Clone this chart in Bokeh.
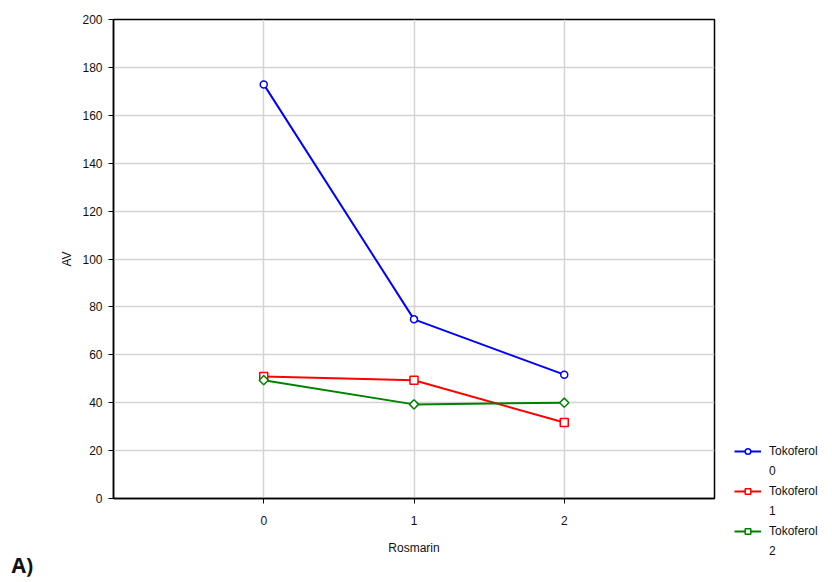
import math
from bokeh.plotting import figure
from bokeh.models import Range1d, FixedTicker, Legend, LegendItem, Title
from bokeh.embed import file_html
from bokeh.resources import INLINE

rosmarin = [0, 1, 2]
tok0 = [172.9, 74.8, 51.7]
tok1 = [50.9, 49.4, 31.7]
tok2 = [49.4, 39.3, 40.0]
series_title = "Tokoferol"
series_levels = ["0", "1", "2"]
y_ticks = [0, 20, 40, 60, 80, 100, 120, 140, 160, 180, 200]

p = figure(frame_width=601, frame_height=479, output_backend="svg", toolbar_location=None,
           x_range=Range1d(-1, 3), y_range=Range1d(0, 200),
           min_border_left=113, min_border_right=110, min_border_top=19,
           min_border_bottom=82)

p.outline_line_color = "black"
p.outline_line_width = 1.5
p.background_fill_color = "white"
p.border_fill_color = "white"

for ax in (p.xaxis[0], p.yaxis[0]):
    ax.axis_line_color = "black"
    ax.axis_line_width = 1.5
    ax.major_tick_line_color = "black"
    ax.major_tick_out = 5
    ax.major_tick_in = 0
    ax.minor_tick_line_color = None
    ax.major_label_text_font = "Liberation Sans"
    ax.major_label_text_font_size = "12px"
    ax.major_label_text_color = "#111111"
    ax.axis_label_text_font = "Liberation Sans"
    ax.axis_label_text_font_size = "12px"
    ax.axis_label_text_font_style = "normal"
    ax.axis_label_text_color = "#111111"

p.xaxis.ticker = FixedTicker(ticks=rosmarin)
p.yaxis.ticker = FixedTicker(ticks=y_ticks)
p.xaxis.axis_label = "Rosmarin"
p.yaxis.axis_label = "AV"
p.xaxis.major_label_standoff = 12
p.xaxis.axis_label_standoff = 13
p.yaxis.major_label_standoff = 6

p.xgrid.grid_line_color = "#d4d4d4"
p.ygrid.grid_line_color = "#d4d4d4"
p.xgrid.grid_line_width = 1.5
p.ygrid.grid_line_width = 1.5

colors = ["#0000ff", "#ff0000", "#008000"]
markers = ["circle", "square", "square"]
sizes = [7, 8, 6.5]
angles = [0, 0, math.pi / 4]
items = []
for ys, c, m, s, a, lev in zip([tok0, tok1, tok2], colors, markers, sizes, angles, series_levels):
    l = p.line(rosmarin, ys, line_color=c, line_width=2)
    sc = p.scatter(rosmarin, ys, marker=m, size=s, angle=a, line_color=c, line_width=1.5,
                   fill_color="white")
    ghost = p.line(rosmarin, ys, line_alpha=0)
    items.append(LegendItem(label=series_title, renderers=[l, sc]))
    items.append(LegendItem(label=lev, renderers=[ghost]))

legend = Legend(items=items, location=(20, -60), background_fill_alpha=0, border_line_color=None,
                label_text_font="Liberation Sans", label_text_font_size="12px",
                label_text_color="#111111",
                glyph_width=27, glyph_height=14, label_standoff=8, spacing=6, padding=0, margin=0)
p.add_layout(legend, "right")

p.add_layout(Title(text="A)", align="left", offset=-102, text_font="Open Sans",
                   text_font_style="bold", text_font_size="21px", text_color="#111111",
                   text_line_height=0.9, standoff=-14, vertical_align="top",
                   text_baseline="top"), "below")

open("out.html", "w").write(file_html(p, INLINE))
